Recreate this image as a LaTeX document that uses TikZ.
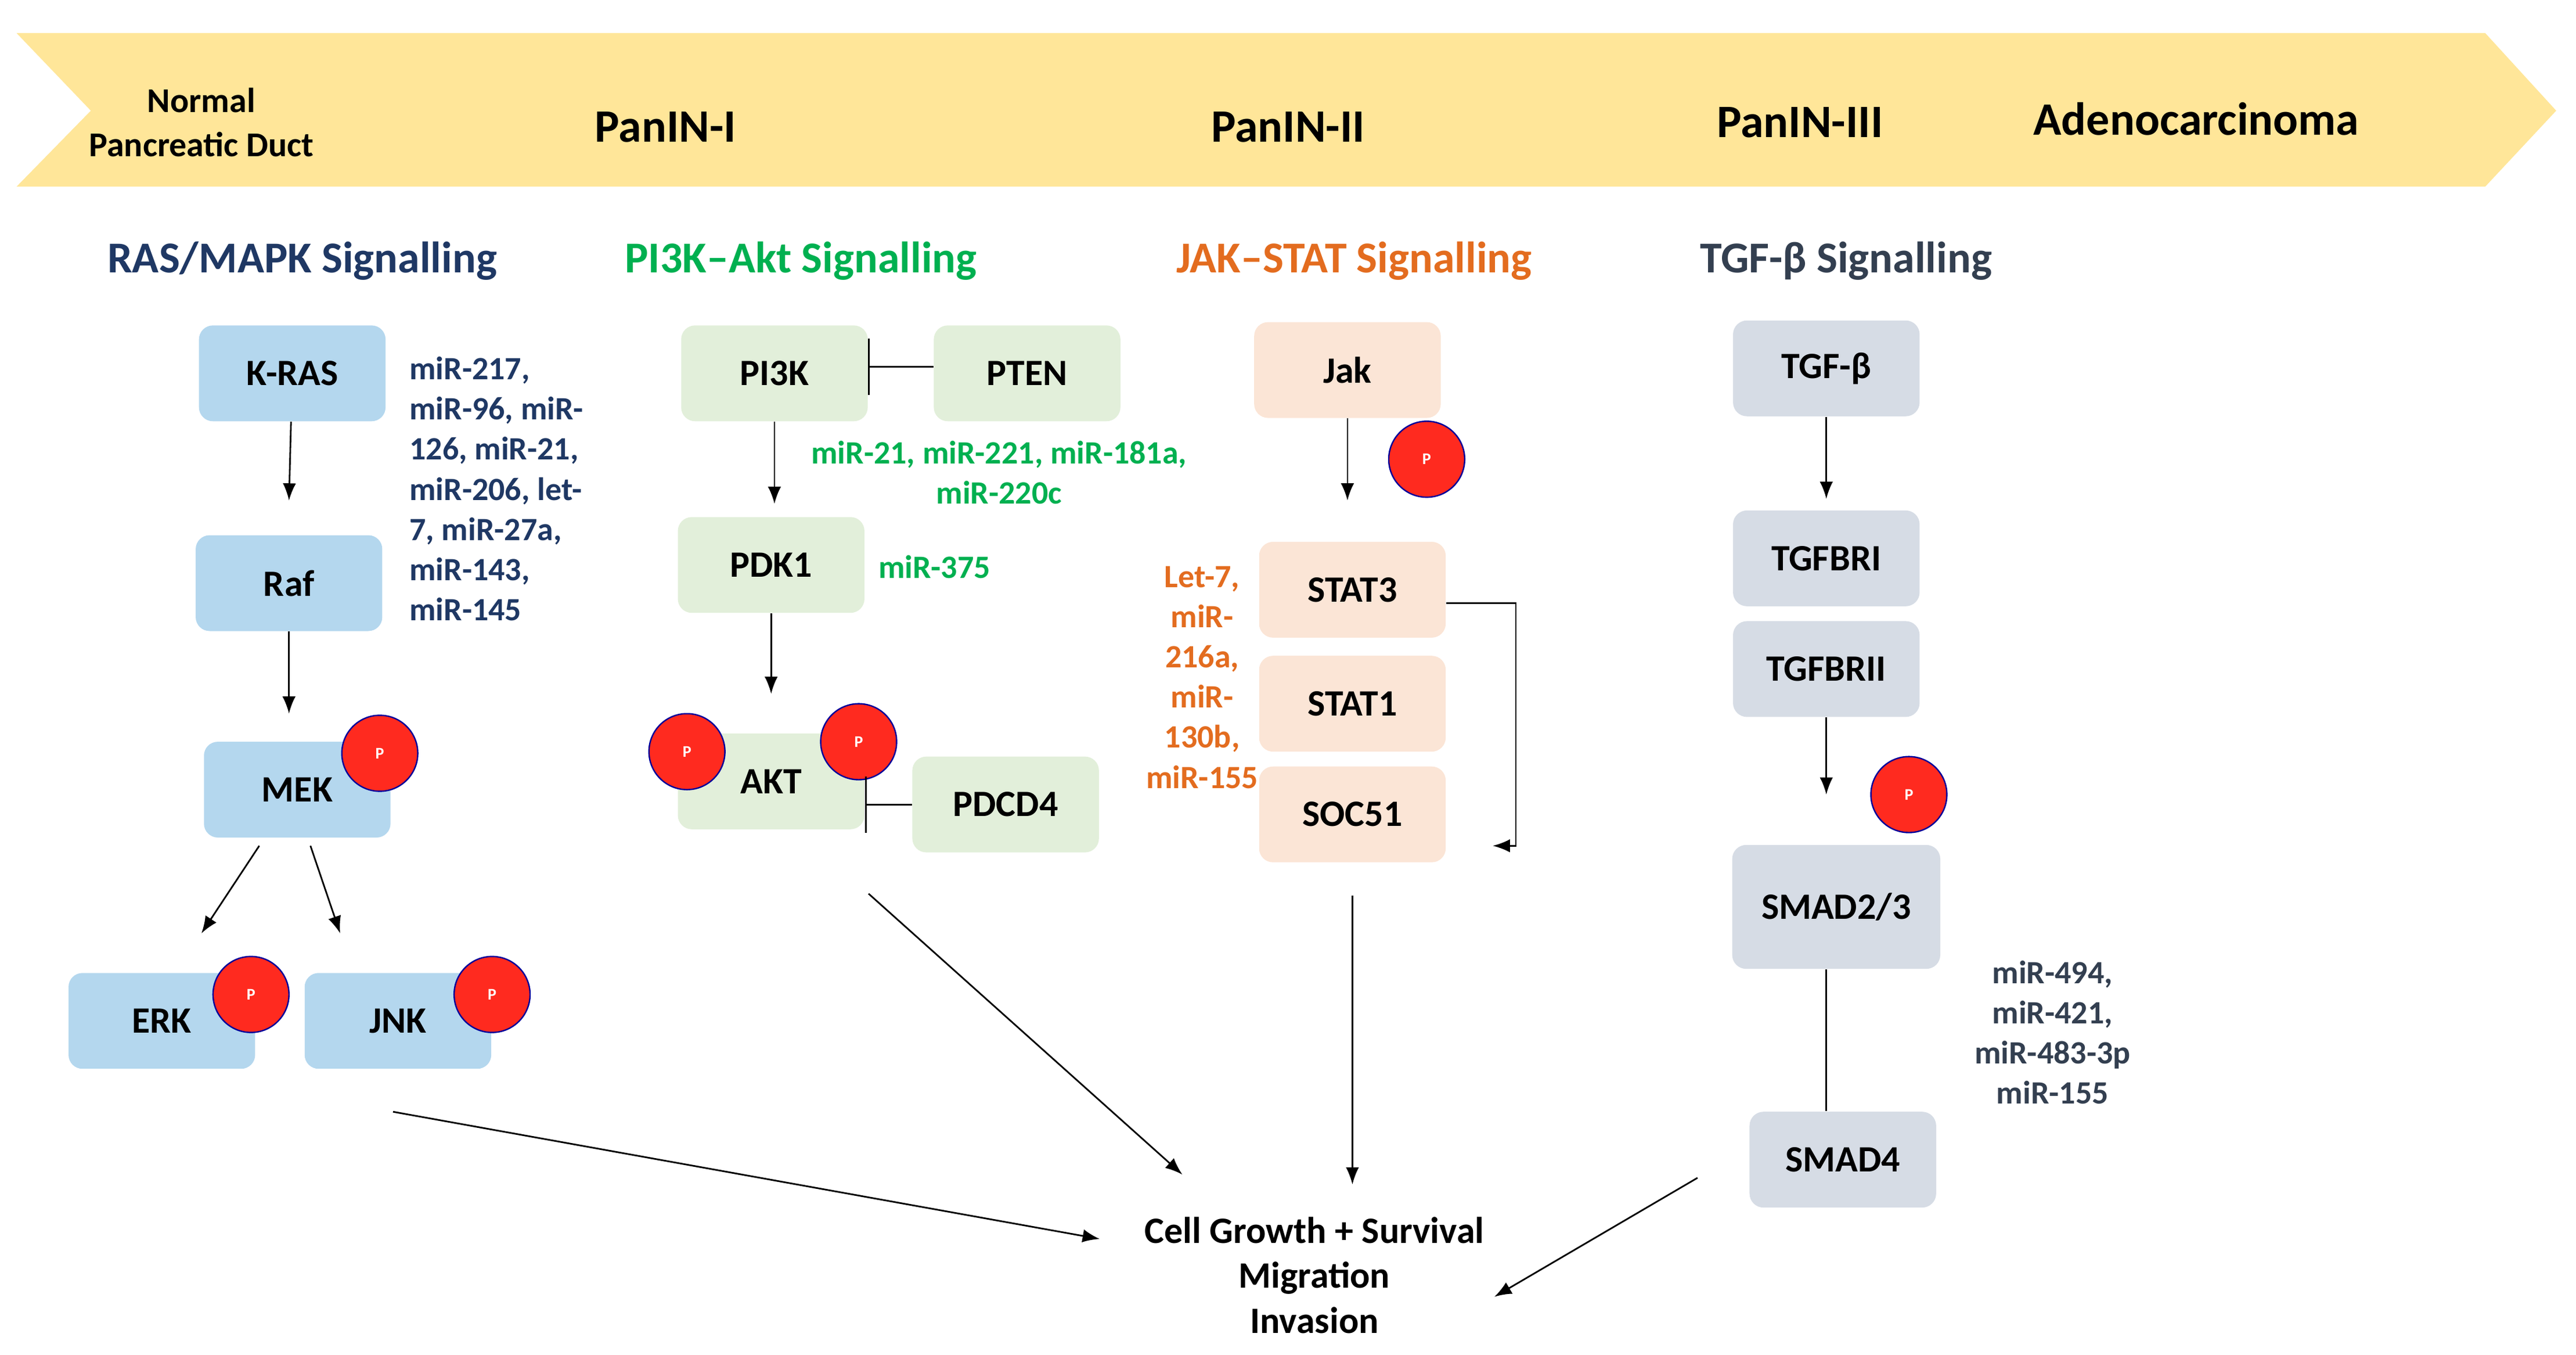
\documentclass[tikz,border=0pt]{standalone}
\usepackage{fontspec}
\setmainfont{Carlito}
\usetikzlibrary{positioning,arrows.meta}
\definecolor{banner}{HTML}{FFE699}
\definecolor{rasblue}{HTML}{B4D7EE}
\definecolor{rastxt}{HTML}{1F3864}
\definecolor{pigreen}{HTML}{E2EFDA}
\definecolor{pitxt}{HTML}{00B050}
\definecolor{jakfill}{HTML}{FBE5D6}
\definecolor{jaktxt}{HTML}{E36C1F}
\definecolor{tgffill}{HTML}{D6DCE5}
\definecolor{tgftxt}{HTML}{333F50}
\definecolor{pred}{HTML}{FF2A1F}
\tikzset{
  box/.style={rounded corners=6pt,minimum width=113*0.25mm,minimum height=58*0.25mm,
    font=\fontsize{16}{18}\selectfont\bfseries},
  pcirc/.style={circle,fill=pred,draw=blue!60!black,line width=.6pt,minimum size=46*0.25mm,
    inner sep=0pt,font=\fontsize{7}{8}\selectfont\bfseries\color{white}},
  stage/.style={font=\fontsize{20}{24}\selectfont\bfseries},
  head/.style={font=\fontsize{19}{22}\selectfont\bfseries},
  mir/.style={font=\fontsize{14}{17.3}\selectfont\bfseries,align=left},
  arr/.style={-{Latex[length=2.6mm,width=2mm]},line width=.7pt},
  inh/.style={-{Bar[width=8.5mm]},line width=.7pt},
}
\begin{document}
\begin{tikzpicture}[x=0.25mm,y=-0.25mm]
\useasboundingbox (0,0) rectangle (1560,820);
% stage banner
\fill[banner] (10,20) -- (1505,20) -- (1548,67) -- (1505,113) -- (10,113) -- (55,67) -- cycle;
\node[font=\fontsize{15}{19}\selectfont\bfseries,align=center] (normal) at (122,74) {Normal\\Pancreatic Duct};
\node[stage] (pan1) at (403,77) {PanIN-I};
\node[stage] (pan2) at (780,77) {PanIN-II};
\node[stage] (pan3) at (1090,74) {PanIN-III};
\node[stage] (adeno) at (1330,72) {Adenocarcinoma};

% headings
\node[head,text=rastxt] (hras) at (183,158) {RAS/MAPK Signalling};
\node[head,text=pitxt] (hpi) at (485,158) {PI3K--Akt Signalling};
\node[head,text=jaktxt] (hjak) at (820,158) {JAK--STAT Signalling};
\node[head,text=tgftxt] (htgf) at (1118,158) {TGF-β Signalling};

% RAS/MAPK
\node[box,fill=rasblue] (kras) at (177,226) {K-RAS};
\node[box,fill=rasblue] (raf) at (175,353) {Raf};
\node[box,fill=rasblue] (mek) at (180,478) {MEK};
\node[box,fill=rasblue] (erk) at (98,618) {ERK};
\node[box,fill=rasblue] (jnk) at (241,618) {JNK};
\node[pcirc] (pmek) at (230,456) {P};
\node[pcirc] (perk) at (152,602) {P};
\node[pcirc] (pjnk) at (298,602) {P};
\draw[arr] (kras) -- (raf.north |- 0,303);
\draw[arr] (raf) -- (raf.south |- 0,432);
\draw[arr] (157,512) -- (122,565);
\draw[arr] (188,512) -- (206,565);
\node[mir,text=rastxt,anchor=north west] (mras) at (243,211)
  {miR-217,\\miR-96, miR-\\126, miR-21,\\miR-206, let-\\7, miR-27a,\\miR-143,\\miR-145};

% PI3K-Akt
\node[box,fill=pigreen] (pik) at (469,226) {PI3K};
\node[box,fill=pigreen] (pten) at (622,226) {PTEN};
\node[box,fill=pigreen] (pdk) at (467,342) {PDK1};
\node[box,fill=pigreen] (akt) at (467,473) {AKT};
\node[box,fill=pigreen] (pdcd) at (609,487) {PDCD4};
\node[pcirc] (pakt1) at (416,455) {P};
\node[pcirc] (pakt2) at (520,449) {P};
\draw[inh] (pten.west |- 0,222) -- (pik.east |- 0,222);
\draw[inh] (pdcd.west) -- (akt.east |- pdcd.west);
\draw[arr] (pik.south) -- (pik.south |- 0,305);
\draw[arr] (pdk.south) -- (pdk.south |- 0,420);
\node[mir,text=pitxt,align=center] (mpi) at (605,286) {miR-21, miR-221, miR-181a,\\miR-220c};
\node[mir,text=pitxt,anchor=west] (mpdk) at (527,343) {miR-375};

% JAK-STAT
\node[box,fill=jakfill] (jak) at (816,224) {Jak};
\node[box,fill=jakfill] (stat3) at (819,357) {STAT3};
\node[box,fill=jakfill] (stat1) at (819,426) {STAT1};
\node[box,fill=jakfill] (socs) at (819,493) {SOC51};
\node[pcirc] (pjak) at (864,278) {P};
\draw[arr] (jak.south) -- (jak.south |- 0,303);
\draw[arr] (stat3.east |- 0,365) -| (918,512) -- (904,512);
\node[mir,text=jaktxt,align=center] (mjak) at (728,410) {Let-7,\\miR-\\216a,\\miR-\\130b,\\miR-155};

% TGF-beta
\node[box,fill=tgffill] (tgf) at (1106,223) {TGF-β};
\node[box,fill=tgffill] (tgfr1) at (1106,338) {TGFBRI};
\node[box,fill=tgffill] (tgfr2) at (1106,405) {TGFBRII};
\node[box,fill=tgffill,minimum width=126*0.25mm,minimum height=75*0.25mm] (smad23) at (1112,549) {SMAD2/3};
\node[box,fill=tgffill] (smad4) at (1116,702) {SMAD4};
\node[pcirc] (ptgf) at (1156,481) {P};
\draw[arr] (tgf.south) -- (tgf.south |- 0,302);
\draw[arr] (tgfr2.south) -- (tgfr2.south |- 0,481);
\draw[line width=.7pt] (smad23.south -| 1106,0) -- (smad4.north -| 1106,0);
\node[mir,text=tgftxt,align=center] (mtgf) at (1243,625) {miR-494,\\miR-421,\\miR-483-3p\\miR-155};

% outcome
\node[font=\fontsize{16}{19.3}\selectfont\bfseries,align=center] (cell) at (796,772)
  {Cell Growth + Survival\\Migration\\Invasion};
\coordinate (cin1) at (666,750);
\coordinate (cin2) at (716,711);
\coordinate (cin3) at (905,785);
\draw[arr] (238,673) -- (cin1);
\draw[arr] (526,541) -- (cin2);
\draw[arr] (socs.south |- 0,542) -- (socs.south |- 0,717);
\draw[arr] (1028,713) -- (cin3);
\end{tikzpicture}
\end{document}
